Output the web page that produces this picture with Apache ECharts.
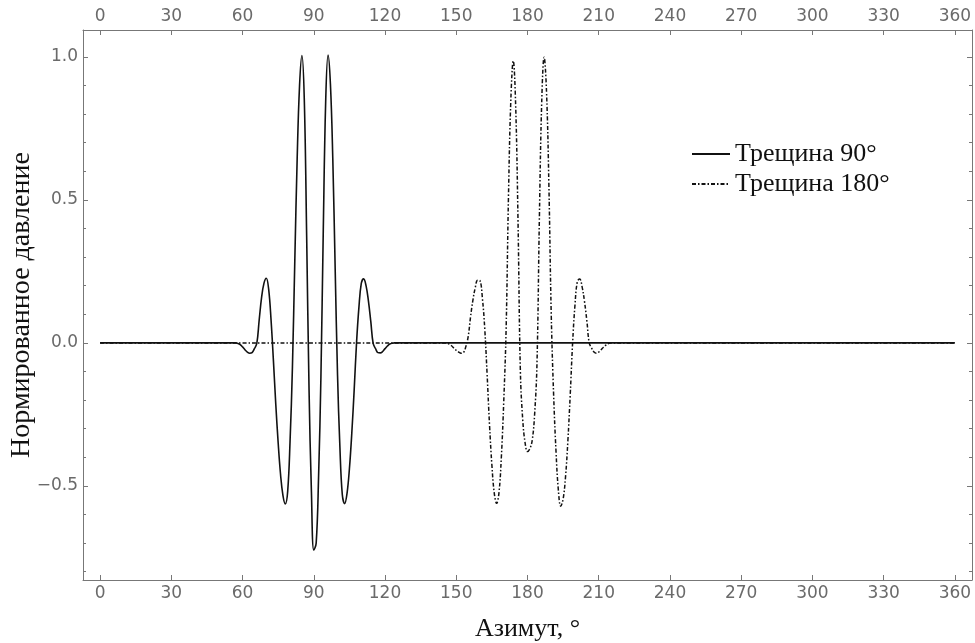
<!DOCTYPE html>
<html>
<head>
<meta charset="utf-8">
<script src="https://cdn.jsdelivr.net/npm/echarts@6/dist/echarts.min.js"></script>
<style>
  html, body { margin: 0; padding: 0; background: #fff; }
  #chart { width: 975px; height: 643px; }
</style>
</head>
<body>
<div id="chart"></div>
<script>
// Трещина 90° (solid), 1° step in the active zone
const azimuth90 = [0,
  55, 56, 57, 58, 59, 60, 61, 62, 63, 64, 65, 66, 67, 68, 69, 70, 71, 72, 73, 74,
  75, 76, 77, 78, 79, 80, 81, 82, 83, 84, 85, 86, 87, 88, 89, 90, 91, 92, 93, 94,
  95, 96, 97, 98, 99, 100, 101, 102, 103, 104, 105, 106, 107, 108, 109, 110, 111, 112, 113, 114,
  115, 116, 117, 118, 119, 120, 121, 122, 123, 124,
  360]
const pressure90 = [0,
  0, 0, 0, -0.002, -0.006, -0.014, -0.024, -0.032, -0.036, -0.034, -0.02, -0.002, 0.08, 0.158, 0.208, 0.226, 0.187, 0.08, -0.063, -0.216,
  -0.35, -0.46, -0.533, -0.563, -0.519, -0.344, -0.085, 0.287, 0.645, 0.9, 1.005, 0.85, 0.37, -0.164, -0.52, -0.725, -0.7, -0.472, -0.118, 0.397,
  0.842, 1.006, 0.905, 0.644, 0.26, -0.113, -0.366, -0.53, -0.562, -0.526, -0.44, -0.316, -0.165, 0, 0.124, 0.208, 0.224, 0.2, 0.147, 0.075,
  -0.002, -0.02, -0.034, -0.035, -0.03, -0.02, -0.011, -0.004, -0.001, 0,
  0]

// Трещина 180° (dash-dot)
const azimuth180 = [0,
  144, 145, 146, 147, 148, 149, 150, 151, 152, 153, 154, 155, 156, 157, 158, 159, 160, 161, 162, 163,
  164, 165, 166, 167, 168, 169, 170, 171, 172, 173, 174, 175, 176, 177, 178, 179, 180, 181, 182, 183,
  184, 185, 186, 187, 188, 189, 190, 191, 192, 193, 194, 195, 196, 197, 198, 199, 200, 201, 202, 203,
  204, 205, 206, 207, 208, 209, 210, 211, 212, 213, 214, 215, 216,
  360]
const pressure180 = [0,
  0, 0, -0.001, -0.004, -0.01, -0.018, -0.026, -0.032, -0.036, -0.034, -0.014, 0.021, 0.09, 0.149, 0.193, 0.219, 0.217, 0.157, 0.049, -0.112,
  -0.286, -0.427, -0.525, -0.561, -0.523, -0.397, -0.204, 0.05, 0.518, 0.853, 0.986, 0.834, 0.43, -0.1, -0.27, -0.35, -0.38, -0.37, -0.34, -0.25,
  -0.07, 0.435, 0.845, 0.999, 0.88, 0.555, 0.098, -0.181, -0.378, -0.515, -0.571, -0.546, -0.47, -0.343, -0.18, 0, 0.133, 0.215, 0.223, 0.196,
  0.145, 0.077, 0, -0.018, -0.032, -0.036, -0.032, -0.024, -0.015, -0.008, -0.003, 0, 0,
  0]

const xTicks = [0, 30, 60, 90, 120, 150, 180, 210, 240, 270, 300, 330, 360]
const yTicks = [-0.5, 0, 0.5, 1.0]
const yMinorTicks = [-0.8, -0.7, -0.6, -0.4, -0.3, -0.2, -0.1, 0.1, 0.2, 0.3, 0.4, 0.6, 0.7, 0.8, 0.9]

const seriesNames = ['Трещина 90°', 'Трещина 180°']

const zip = (xs, ys) => xs.map((x, i) => [x, ys[i]])

const axisColor = '#777'
const labelColor = '#6a6a6a'
const serif = '"Liberation Serif", "Times New Roman", serif'

const xAxisBase = (position) => ({
  type: 'value',
  position: position,
  offset: 0,
  min: -7.2,
  max: 367.2,
  axisLine: { show: true, onZero: false, lineStyle: { color: axisColor, width: 1 } },
  axisTick: { show: true, inside: true, length: 5, customValues: xTicks, lineStyle: { color: axisColor } },
  axisLabel: {
    show: true, customValues: xTicks, margin: 5,
    color: labelColor, fontFamily: 'DejaVu Sans', fontSize: 17
  },
  splitLine: { show: false }
})

const yAxisBase = (position, withLabels) => ({
  type: 'value',
  position: position,
  offset: 0,
  min: -0.829,
  max: 1.094,
  axisLine: { show: true, onZero: false, lineStyle: { color: axisColor, width: 1 } },
  axisTick: { show: true, inside: true, length: 5, customValues: yTicks, lineStyle: { color: axisColor } },
  axisLabel: {
    show: withLabels, customValues: yTicks, margin: 5,
    color: labelColor, fontFamily: 'DejaVu Sans', fontSize: 17,
    formatter: (v) => (v < 0 ? '\u2212' : '') + Math.abs(v).toFixed(1)
  },
  splitLine: { show: false }
})

// extra axes only for the small 0.1 ticks
const yMinorAxis = (position) => ({
  type: 'value',
  position: position,
  offset: 0,
  min: -0.829,
  max: 1.094,
  axisLine: { show: false, onZero: false },
  axisTick: { show: true, inside: true, length: 3, customValues: yMinorTicks, lineStyle: { color: axisColor } },
  axisLabel: { show: false },
  splitLine: { show: false }
})

const chart = echarts.init(document.getElementById('chart'), null, { renderer: 'canvas' })

const bottomX = xAxisBase('bottom')
bottomX.name = 'Азимут, °'
bottomX.nameLocation = 'middle'
bottomX.nameGap = 36
bottomX.nameMoveOverlap = false
bottomX.nameTextStyle = { fontFamily: serif, fontSize: 26, color: '#111' }

const leftY = yAxisBase('left', true)
leftY.name = 'Нормированное давление'
leftY.nameLocation = 'middle'
leftY.nameGap = 47
leftY.nameMoveOverlap = false
leftY.nameTextStyle = { fontFamily: serif, fontSize: 28, color: '#111' }

const option = {
  animation: false,
  backgroundColor: '#fff',
  grid: { left: 83, right: 3, top: 30, bottom: 63, containLabel: false, outerBoundsMode: 'none' },
  legend: {
    orient: 'vertical',
    left: 686,
    top: 136,
    itemWidth: 38,
    itemHeight: 14,
    itemGap: 4,
    data: seriesNames,
    itemStyle: { opacity: 0 },
    textStyle: { fontFamily: serif, fontSize: 26, color: '#111' }
  },
  xAxis: [bottomX, xAxisBase('top')],
  yAxis: [leftY, yAxisBase('right', false), yMinorAxis('left'), yMinorAxis('right')],
  series: [
    {
      name: seriesNames[0],
      type: 'line',
      xAxisIndex: 0,
      yAxisIndex: 0,
      data: zip(azimuth90, pressure90),
      smooth: 0.4,
      symbol: 'none',
      lineStyle: { color: '#111', width: 1.6, type: 'solid' },
      itemStyle: { color: '#111' },
      z: 3
    },
    {
      name: seriesNames[1],
      type: 'line',
      xAxisIndex: 0,
      yAxisIndex: 0,
      data: zip(azimuth180, pressure180),
      smooth: 0.4,
      symbol: 'none',
      lineStyle: { color: '#111', width: 1.5, type: [4, 2, 1.5, 2] },
      itemStyle: { color: '#111' },
      z: 2
    }
  ]
}

chart.setOption(option)
</script>
</body>
</html>
